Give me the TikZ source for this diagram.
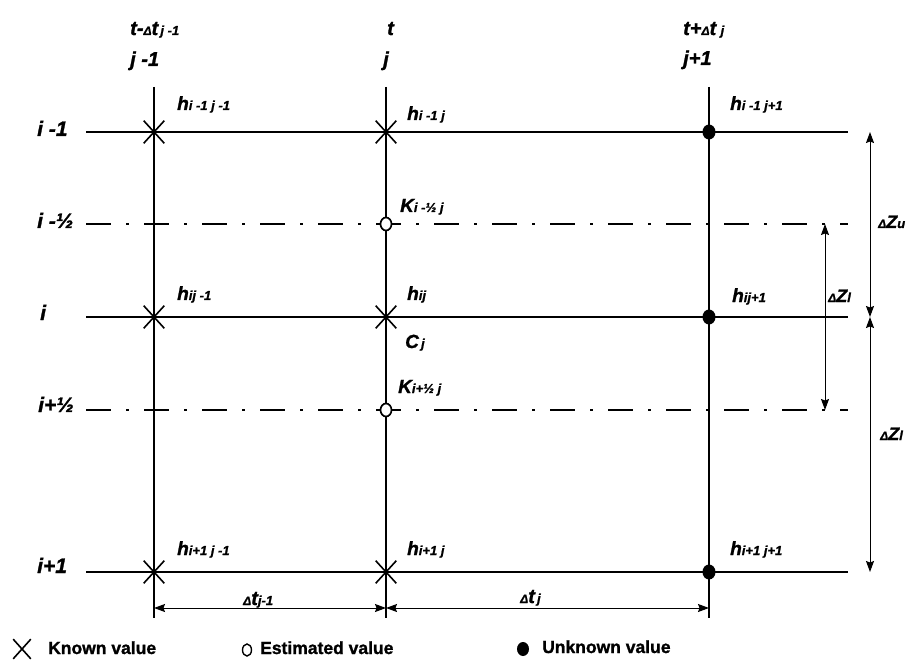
\documentclass[tikz,border=0pt]{standalone}
\usepackage{fontspec}
\setmainfont{Liberation Sans}[BoldItalicFeatures={FakeBold=1.3},BoldFeatures={FakeBold=1.3}]
\usetikzlibrary{arrows.meta,shapes.misc,shapes.geometric}
\newcommand\lowsub[1]{{\fontsize{13}{13}\selectfont #1}}
\newcommand\smalld{{\fontsize{12}{12}\selectfont Δ}}
\begin{document}
\begin{tikzpicture}[x=1pt,y=-1pt,
  lab/.style={anchor=base west, inner sep=0pt, font=\bfseries\itshape\fontsize{20}{20}\selectfont},
  rowlab/.style={lab, font=\bfseries\itshape\fontsize{21}{21}\selectfont},
  hlab/.style={anchor=base west, inner sep=0pt, font=\bfseries\itshape\fontsize{19}{19}\selectfont},
  zlab/.style={anchor=base west, inner sep=0pt, font=\bfseries\itshape\fontsize{18}{18}\selectfont},
  leg/.style={anchor=base west, inner sep=0pt, font=\bfseries\fontsize{17.5}{17.5}\selectfont},
  gridline/.style={line width=1.2pt},
  dashdot/.style={line width=1.2pt, dash pattern=on 25pt off 15pt on 3pt off 15pt},
  known/.style={cross out, draw, minimum width=19pt, minimum height=21pt, inner sep=0pt, line width=1.6pt},
  est/.style={ellipse, draw, fill=white, minimum width=11pt, minimum height=13pt, inner sep=0pt, line width=1.7pt},
  unk/.style={ellipse, fill, minimum width=13pt, minimum height=15pt, inner sep=0pt},
  dimline/.style={line width=1pt, {Stealth[length=11pt,width=8pt,inset=1.5pt]}-{Stealth[length=11pt,width=8pt,inset=1.5pt]}}]
\useasboundingbox (0,0) rectangle (918,660);
% grid coordinates
\foreach \c/\x in {a/154,b/386,c/709}{
  \coordinate (\c top) at (\x,87);
  \coordinate (\c bot) at (\x,618);
  \coordinate (\c dim) at (\x,608);
}
\foreach \r/\y in {1/132,2/224,3/317,4/410,5/572}{
  \coordinate (L\r) at (86,\y);
  \coordinate (R\r) at (848,\y);
}
\coordinate (a1) at (154,132); \coordinate (b1) at (386,132); \coordinate (c1) at (709,132);
\coordinate (b2) at (386,224);
\coordinate (a3) at (154,317); \coordinate (b3) at (386,317); \coordinate (c3) at (709,317);
\coordinate (b4) at (386,410);
\coordinate (a5) at (154,572); \coordinate (b5) at (386,572); \coordinate (c5) at (709,572);
\coordinate (zu1) at (870,132); \coordinate (zu2) at (870,317); \coordinate (zu3) at (870,572);
\coordinate (zi1) at (825,224); \coordinate (zi2) at (825,410);

% lines
\draw[gridline] (atop) -- (abot);
\draw[gridline] (btop) -- (bbot);
\draw[gridline] (ctop) -- (cbot);
\draw[gridline] (L1) -- (R1);
\draw[gridline] (L3) -- (R3);
\draw[gridline] (L5) -- (R5);
\draw[dashdot] (L2) -- (R2);
\draw[dashdot] (L4) -- (R4);

% markers
\node[known] (m11) at (a1) {};
\node[known] (m12) at (b1) {};
\node[unk]   (m13) at (c1) {};
\node[est]   (m22) at (b2) {};
\node[known] (m31) at (a3) {};
\node[known] (m32) at (b3) {};
\node[unk]   (m33) at (c3) {};
\node[est]   (m42) at (b4) {};
\node[known] (m51) at (a5) {};
\node[known] (m52) at (b5) {};
\node[unk]   (m53) at (c5) {};

% dimension arrows
\draw[dimline] (zu1) -- (zu2);
\draw[dimline] (zu2) -- (zu3);
\draw[dimline] (zi1) -- (zi2);
\draw[dimline] (adim) -- (bdim);
\draw[dimline] (bdim) -- (cdim);

% top labels
\node[lab] (t1) at (130,35) {t-\smalld t\lowsub{\,j -1}};
\node[lab] (j1) at (130,66) {j -1};
\node[lab] (t2) at (387,35) {t};
\node[lab] (j2) at (383,66) {j};
\node[lab] (t3) at (683,35) {t+\smalld t\lowsub{\,\,j}};
\node[lab] (j3) at (683,65) {j+1};

% row labels
\node[rowlab] (r1) at (37,136) {i -1};
\node[rowlab] (r2) at (37,228) {i -½};
\node[rowlab] (r3) at (40,320) {i};
\node[rowlab] (r4) at (38,412) {i+½};
\node[rowlab] (r5) at (37,573) {i+1};

% point labels
\node[hlab] (h11) at (177,110) {h\lowsub{i -1 j -1}};
\node[hlab] (h12) at (407,120) {h\lowsub{i -1 j}};
\node[hlab] (h13) at (730,110) {h\lowsub{i -1 j+1}};
\node[hlab] (k2)  at (400,212) {K\lowsub{i -½ j}};
\node[hlab] (h31) at (177,300) {h\lowsub{ij -1}};
\node[hlab] (h32) at (407,300) {h\lowsub{ij}};
\node[hlab] (cj)  at (405,348) {C\lowsub{\,j}};
\node[hlab] (h33) at (732,302) {h\lowsub{ij+1}};
\node[hlab] (k4)  at (398,393) {K\lowsub{i+½ j}};
\node[hlab] (h51) at (177,555) {h\lowsub{i+1 j -1}};
\node[hlab] (h52) at (407,555) {h\lowsub{i+1 j}};
\node[hlab] (h53) at (730,555) {h\lowsub{i+1 j+1}};
\node[lab] (dt1) at (243,605) {\smalld t\lowsub{j-1}};
\node[lab] (dt2) at (520,603) {\smalld t\lowsub{\,j}};
\node[zlab] (dzu) at (878,228) {\smalld Z\lowsub{u}};
\node[zlab] (dzl1) at (828,302) {\smalld Z\lowsub{l}};
\node[zlab] (dzl2) at (880,440) {\smalld Z\lowsub{l}};

% legend
\node[known, minimum width=16pt, minimum height=18pt] (lk) at (22,649) {};
\node[leg] (lkt) at (48,654) {Known value};
\node[est, minimum width=9pt, minimum height=12pt, line width=1.4pt] (le) at (247,650) {};
\node[leg] (let) at (260,654) {Estimated value};
\node[unk, minimum width=12pt, minimum height=14pt] (lu) at (523,649) {};
\node[leg] (lut) at (542,653) {Unknown value};
\end{tikzpicture}
\end{document}
